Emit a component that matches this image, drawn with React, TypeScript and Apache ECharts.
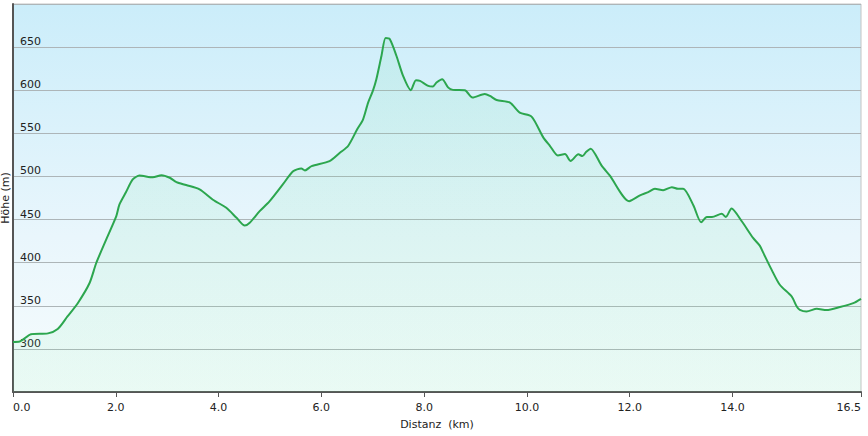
import React, { useEffect, useRef } from "react";
import * as echarts from "echarts";

const distanceKm = [0, 0.13, 0.35, 0.68, 0.87, 1.06, 1.26, 1.49, 1.62, 1.8, 2.01, 2.07, 2.2, 2.33, 2.46, 2.72, 2.89, 3.05, 3.18, 3.37, 3.63, 3.89, 4.15, 4.35, 4.51, 4.6, 4.8, 4.99, 5.25, 5.45, 5.61, 5.68, 5.81, 6.16, 6.36, 6.52, 6.7, 6.81, 6.91, 7.0, 7.07, 7.17, 7.25, 7.33, 7.46, 7.59, 7.74, 7.84, 7.92, 8.08, 8.17, 8.24, 8.35, 8.47, 8.56, 8.79, 8.94, 9.18, 9.28, 9.41, 9.67, 9.86, 10.09, 10.32, 10.45, 10.6, 10.74, 10.85, 11.0, 11.08, 11.15, 11.24, 11.45, 11.61, 11.99, 12.2, 12.36, 12.49, 12.65, 12.82, 12.94, 13.04, 13.24, 13.39, 13.5, 13.6, 13.79, 13.87, 13.98, 14.18, 14.4, 14.53, 14.6, 14.76, 14.92, 15.15, 15.25, 15.31, 15.44, 15.64, 15.83, 16.09, 16.35, 16.5];

const elevationM = [308, 308.5, 317, 318, 323, 337.6, 353, 376.4, 399.6, 425, 453.9, 467.4, 482, 496.5, 501, 499, 501.5, 498.5, 493.4, 490, 485, 473, 463.6, 452, 443, 446, 459.7, 471, 490.7, 506, 509.3, 507, 512, 517.8, 527.5, 535.3, 555, 566, 585.7, 599, 612.8, 640, 660.5, 659.3, 640, 616.6, 600, 611.6, 610.8, 605, 604.3, 608.9, 612.8, 603, 600.4, 600, 591.5, 595.7, 593.4, 588.7, 585.7, 574, 569.4, 545, 535.3, 524.4, 526, 518, 525.6, 523.6, 528.3, 532.2, 512.8, 501.2, 471.3, 478, 481.8, 485.6, 484, 487.6, 485.6, 485.6, 466.3, 446.9, 453, 453, 456.6, 453, 462.8, 448, 428.7, 419.8, 411.3, 391.9, 374.4, 360.8, 349.2, 345.3, 343.4, 346.5, 345, 348.5, 353.1, 358.1];

const xTickValues = [0, 2, 4, 6, 8, 10, 12, 14, 16.5];
const yTickValues = [300, 350, 400, 450, 500, 550, 600, 650];

const FONT = "DejaVu Sans";

export default function App() {
  const ref = useRef<HTMLDivElement>(null);
  useEffect(() => {
    if (!ref.current) return;
    const chart = echarts.init(ref.current, null, { renderer: "svg" });
    const data = distanceKm.map((d, i) => [d, elevationM[i]]);
    chart.setOption({
      animation: false,
      grid: {
        left: 13,
        right: 7,
        top: 4,
        bottom: 44,
        containLabel: false,
        outerBoundsMode: "none",
        show: true,
        borderColor: "#c4c4c4",
        borderWidth: 1,
        backgroundColor: new echarts.graphic.LinearGradient(0, 0, 0, 1, [
          { offset: 0, color: "#cbedfa" },
          { offset: 0.6, color: "#e9f6fc" },
          { offset: 1, color: "#f6fcfd" },
        ]),
      },
      xAxis: {
        type: "value",
        min: 0,
        max: 16.5,
        name: "Distanz  (km)",
        nameLocation: "middle",
        nameGap: 27,
        nameMoveOverlap: false,
        nameTextStyle: { fontFamily: FONT, fontSize: 11, color: "#222" },
        axisLine: { show: true, lineStyle: { color: "#555", width: 2 } },
        axisTick: {
          show: true,
          length: 5,
          customValues: xTickValues,
          lineStyle: { color: "#555", width: 1 },
        },
        axisLabel: {
          customValues: xTickValues,
          formatter: (v: number) => v.toFixed(1),
          fontFamily: FONT,
          fontSize: 11,
          color: "#222",
          margin: 10,
          alignMinLabel: "left",
          alignMaxLabel: "right",
        },
        splitLine: { show: false },
      },
      yAxis: {
        type: "value",
        min: 250,
        max: 700,
        interval: 50,
        name: "Höhe (m)",
        nameLocation: "middle",
        nameGap: 2,
        nameMoveOverlap: false,
        nameTextStyle: { fontFamily: FONT, fontSize: 11, color: "#222" },
        axisLine: { show: true, lineStyle: { color: "#555", width: 2 } },
        axisTick: { show: false },
        axisLabel: {
          inside: true,
          customValues: yTickValues,
          margin: 7,
          verticalAlign: "bottom",
          fontFamily: FONT,
          fontSize: 11,
          color: "#222",
        },
        splitLine: { show: true, lineStyle: { color: "#adb5b8", width: 1 } },
      },
      series: [
        {
          type: "line",
          data,
          smooth: 0.25,
          showSymbol: false,
          symbol: "none",
          lineStyle: { color: "#2ca64e", width: 2 },
          areaStyle: {
            color: new echarts.graphic.LinearGradient(0, 0, 0, 1, [
              { offset: 0, color: "rgba(90,215,150,0.16)" },
              { offset: 1, color: "rgba(120,235,160,0.14)" },
            ]),
            origin: "start",
          },
        },
      ],
    });
    return () => chart.dispose();
  }, []);
  return <div ref={ref} style={{ width: 868, height: 436, position: "absolute", left: 0, top: 0 }} />;
}
